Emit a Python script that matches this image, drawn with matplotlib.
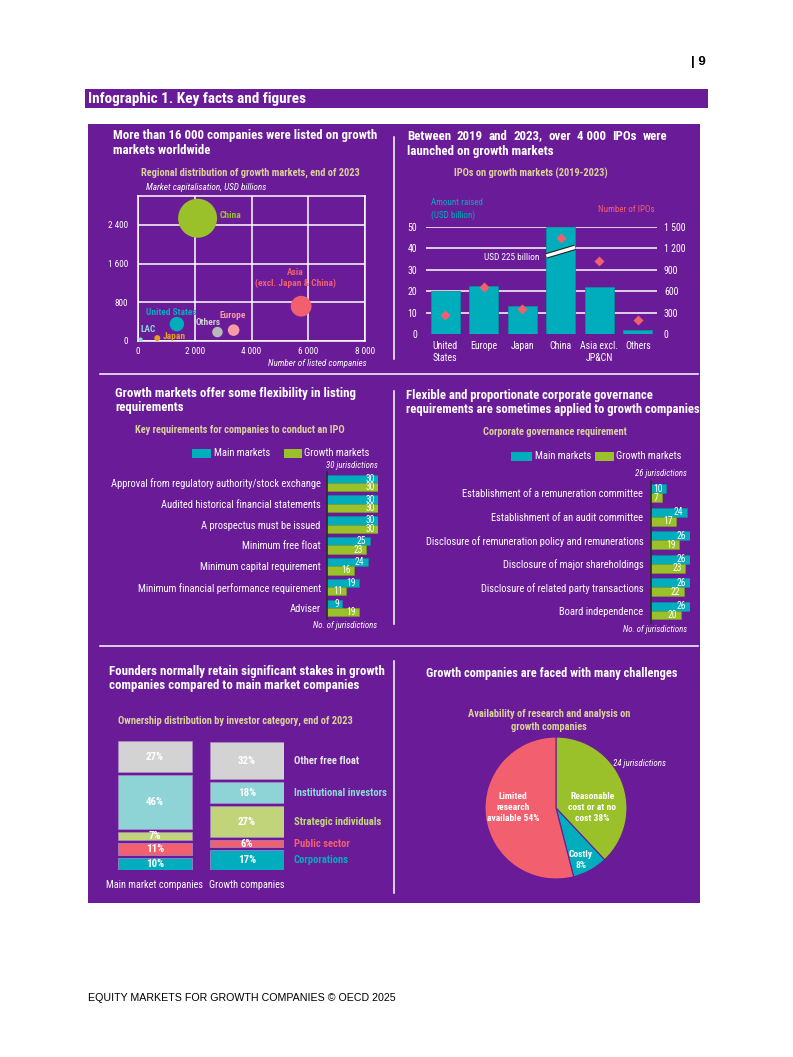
import matplotlib
matplotlib.use('Agg')
import matplotlib.pyplot as plt
import matplotlib.patheffects as pe
import matplotlib.font_manager as fm
from matplotlib.patches import Rectangle
import numpy as np

# ---------------- data ----------------
# Panel 1: bubble chart
bubble_regions = ['China', 'Asia\n(excl. Japan & China)', 'United States', 'Europe', 'Others', 'Japan', 'LAC']
bubble_listed = [2100, 5750, 1370, 3370, 2800, 680, 90]
bubble_mcap = [2540, 720, 350, 225, 185, 60, 30]
bubble_xticks = [0, 2000, 4000, 6000, 8000]
bubble_xlabels = ['0', '2 000', '4 000', '6 000', '8 000']
bubble_yticks = [0, 800, 1600, 2400]
bubble_ylabels = ['0', '800', '1 600', '2 400']

# Panel 2: IPOs
ipo_regions = ['United\nStates', 'Europe', 'Japan', 'China', 'Asia excl.\nJP&CN', 'Others']
ipo_amount = [20, 22.5, 13, 225, 22, 2]
ipo_count = [270, 660, 350, 1345, 1025, 200]
ipo_left_ticks = [0, 10, 20, 30, 40, 50]
ipo_right_ticks = [0, 300, 600, 900, 1200, 1500]
ipo_right_labels = ['0', '300', '600', '900', '1 200', '1 500']

# Panel 3: listing requirements
req_items = ['Approval from regulatory authority/stock exchange',
             'Audited historical financial statements',
             'A prospectus must be issued',
             'Minimum free float',
             'Minimum capital requirement',
             'Minimum financial performance requirement',
             'Adviser']
req_main = [30, 30, 30, 25, 24, 19, 9]
req_growth = [30, 30, 30, 23, 16, 11, 19]

# Panel 4: corporate governance
cg_items = ['Establishment of a remuneration committee',
            'Establishment of an audit committee',
            'Disclosure of remuneration policy and remunerations',
            'Disclosure of major shareholdings',
            'Disclosure of related party transactions',
            'Board independence']
cg_main = [10, 24, 26, 26, 26, 26]
cg_growth = [7, 17, 19, 23, 22, 20]

# Panel 5: ownership (bottom -> top)
own_categories = ['Corporations', 'Public sector', 'Strategic individuals',
                  'Institutional investors', 'Other free float']
own_main = [10, 11, 7, 46, 27]
own_growth = [17, 6, 27, 18, 32]
own_groups = ['Main market companies', 'Growth companies']

# Panel 6: pie
pie_labels = ['Reasonable\ncost or at no\ncost 38%', 'Costly\n8%', 'Limited\nresearch\navailable 54%']
pie_values = [38, 8, 54]

# ---------------- fonts ----------------
entries = fm.fontManager.ttflist
names = {f.name for f in entries}


def pick_font():
    for nm in ['Roboto Condensed', 'Liberation Sans Narrow', 'Arial Narrow',
               'Open Sans Condensed', 'Noto Sans Condensed', 'Archivo Narrow']:
        if nm in names:
            return nm, 'normal'
    for nm in ['Roboto', 'Open Sans', 'Noto Sans', 'Liberation Sans', 'DejaVu Sans']:
        if any(f.name == nm and f.stretch != 'normal' for f in entries):
            return nm, 'condensed'
    return 'Liberation Sans', 'normal'


MAIN_FONT, STRETCH = pick_font()
FONT = [MAIN_FONT, 'Liberation Sans', 'DejaVu Sans']
plt.rcParams['font.family'] = FONT
plt.rcParams['font.stretch'] = STRETCH

# ---------------- style ----------------
PURPLE = '#6a1b98'
WHITE = '#ffffff'
KHAKI = '#d9d19a'
TEAL = '#00adbd'
GREEN = '#9bc12a'
RED = '#f2606f'
PINK = '#f59aa6'
GRAY = '#b8b8b8'
GOLD = '#e2a11c'
LTEAL = '#8fd6d8'

W, H = 793, 1057
fig = plt.figure(figsize=(W / 100, H / 100), dpi=100)
fig.patch.set_facecolor('white')

bg = fig.add_axes([0, 0, 1, 1], zorder=-5)
bg.set_xlim(0, W)
bg.set_ylim(H, 0)
bg.axis('off')

# width-fitting factor (sizes below are tuned for a ~264 px wide title line)
_probe = bg.text(0, 0, 'More than 16 000 companies were listed on growth', fontsize=9.35,
                 fontweight='bold')
_w = _probe.get_window_extent(fig.canvas.get_renderer()).width
_probe.remove()
F = float(np.clip(264.0 / _w, 0.72, 1.15))


def fs(v):
    return v * F


def pax(x0, y0, x1, y1):
    ax = fig.add_axes([x0 / W, 1 - y1 / H, (x1 - x0) / W, (y1 - y0) / H])
    ax.patch.set_alpha(0)
    return ax


def txt(x, y, s, **kw):
    kw.setdefault('va', 'center')
    kw.setdefault('color', WHITE)
    return bg.text(x, y, s, **kw)


# page decorations
txt(706, 62, '| 9', ha='right', fontsize=9.5, fontweight='bold', color='black',
    family=['Liberation Sans', 'DejaVu Sans'], fontstretch='normal')
bg.add_patch(Rectangle((85, 89), 623, 19, color=PURPLE, lw=0))
txt(88, 98.5, 'Infographic 1. Key facts and figures', fontsize=fs(11.1), fontweight='bold')
bg.add_patch(Rectangle((88, 124), 612, 779, color=PURPLE, lw=0))
txt(88, 998, 'EQUITY MARKETS FOR GROWTH COMPANIES \u00a9 OECD 2025', fontsize=7.7,
    color='black', family=['Liberation Sans', 'DejaVu Sans'], fontstretch='normal')

# dividers
for (xa, ya, xb, yb) in [(394, 137, 394, 359), (100, 374, 698, 374), (394, 391, 394, 624),
                         (100, 646, 698, 646), (394, 661, 394, 893)]:
    bg.plot([xa, xb], [ya, yb], color=WHITE, lw=1.1)

TS = fs(9.35)   # title size
SS = fs(7.55)   # subtitle size
CAT = fs(7.6)   # category / legend labels
JUR = fs(6.4)   # italic notes


def title(x, ys, lines, ha='left', size=None):
    for y, s in zip(ys, lines):
        txt(x, y, s, fontsize=size or TS, fontweight='bold', ha=ha)


def justified(x0, x1, y, words, **kw):
    ts = [txt(0, y, w, **kw) for w in words]
    r = fig.canvas.get_renderer()
    ws = [t.get_window_extent(r).width for t in ts]
    gap = (x1 - x0 - sum(ws)) / (len(ws) - 1)
    xx = x0
    for t, w in zip(ts, ws):
        t.set_x(xx)
        xx += w + gap


# ---------------- Panel 1 ----------------
title(113, [136, 150], ['More than 16 000 companies were listed on growth', 'markets worldwide'])
txt(250, 173, 'Regional distribution of growth markets, end of 2023', fontsize=SS,
    fontweight='bold', color=KHAKI, ha='center')
txt(146, 188, 'Market capitalisation, USD billions', fontsize=fs(6.7), style='italic')
txt(367, 364, 'Number of listed companies', fontsize=fs(6.6), style='italic', ha='right')

ax1 = pax(138, 196, 365, 341)
ax1.set_xlim(0, 8000)
ax1.set_ylim(0, 3000)
ax1.set_xticks(bubble_xticks, bubble_xlabels)
ax1.set_yticks(bubble_yticks, bubble_ylabels)
ax1.grid(True, color=WHITE, lw=1.1)
ax1.set_axisbelow(True)
for s in ax1.spines.values():
    s.set_color(WHITE)
    s.set_linewidth(1.1)
ax1.tick_params(length=0, labelcolor=WHITE, labelsize=fs(6.6))
ax1.tick_params(axis='y', pad=7)
ax1.tick_params(axis='x', pad=4.5)
b_colors = [GREEN, RED, TEAL, PINK, GRAY, GOLD, LTEAL]
lab_colors = [GREEN, RED, TEAL, PINK, '#cfcfcf', GOLD, LTEAL]
lab_off = [(22, 3), (-6, 28), (-6, 12), (-1, 15), (-9, 10), (5, 2), (8, 10)]
lab_ha = ['left', 'center', 'center', 'center', 'center', 'left', 'center']
ax1.scatter(bubble_listed, bubble_mcap, s=np.array(bubble_mcap) * 0.31, c=b_colors,
            linewidths=0, zorder=3, clip_on=False)
for xv, yv, name, col, off, ha in zip(bubble_listed, bubble_mcap, bubble_regions,
                                      lab_colors, lab_off, lab_ha):
    ax1.annotate(name, (xv, yv), xytext=(off[0] * 0.72, off[1] * 0.72),
                 textcoords='offset points', ha=ha, va='center', fontsize=fs(6.8),
                 fontweight='bold', color=col, linespacing=1.3, zorder=4)

# ---------------- Panel 2 ----------------
justified(407, 667, 136, ['Between', '2019', 'and', '2023,', 'over', '4 000', 'IPOs', 'were'],
          fontsize=TS, fontweight='bold')
txt(407, 152, 'launched on growth markets', fontsize=TS, fontweight='bold')
txt(531, 173, 'IPOs on growth markets (2019-2023)', fontsize=SS, fontweight='bold',
    color=KHAKI, ha='center')
txt(431, 209, 'Amount raised\n(USD billion)', fontsize=fs(6.5), color=TEAL, linespacing=1.35)
txt(655, 209, 'Number of IPOs', fontsize=fs(6.5), color=RED, ha='right')

ax2 = pax(426, 227, 657, 334)
ax2.set_xlim(-0.5, 5.5)
ax2.set_ylim(0, 50)
xi = np.arange(len(ipo_regions))
for t in ipo_left_ticks[1:]:
    ax2.axhline(t, color=WHITE, lw=1.1, zorder=1)
ax2.bar(xi, np.minimum(ipo_amount, 50), width=0.75, color=TEAL, edgecolor='#0a8f9c',
        lw=0.6, zorder=2)
ax2.set_yticks(ipo_left_ticks)
ax2.set_xticks(xi, ipo_regions)
for s in ax2.spines.values():
    s.set_visible(False)
ax2.tick_params(length=0, labelcolor=WHITE, labelsize=fs(7.2))
ax2.tick_params(axis='y', pad=6.5)
ax2.tick_params(axis='x', pad=5)
for lbl in ax2.get_xticklabels():
    lbl.set_linespacing(1.3)
ci = ipo_regions.index('China')
ax2.plot([ci - 0.375, ci + 0.375], [36.5, 40.5], color=WHITE, lw=2.4, solid_capstyle='butt',
         zorder=4, path_effects=[pe.Stroke(linewidth=4, foreground='#222222'), pe.Normal()])
txt(539, 258, 'USD 225 billion', fontsize=fs(6.7), ha='right')

tw = ax2.twinx()
tw.patch.set_alpha(0)
tw.set_ylim(0, 1500)
tw.set_yticks(ipo_right_ticks, ipo_right_labels)
for s in tw.spines.values():
    s.set_visible(False)
tw.tick_params(length=0, labelcolor=WHITE, labelsize=fs(7.2), pad=5)
tw.plot(xi, ipo_count, 'D', color=RED, ms=5.5, mec='none', zorder=5)


# ---------------- Panels 3 & 4 (paired bars) ----------------
def paired(ax, items, main, growth, xmax, ymax, h, pad):
    y = np.arange(len(items))
    ax.set_xlim(0, xmax)
    ax.set_ylim(ymax, -0.52)
    ax.barh(y - h / 2, main, height=h, color=TEAL, edgecolor='#0a8f9c', lw=0.4)
    ax.barh(y + h / 2, growth, height=h, color=GREEN, edgecolor='#7f9f1f', lw=0.4)
    for yy, vals in [(y - h / 2, main), (y + h / 2, growth)]:
        for v, p in zip(vals, yy):
            ax.annotate(str(v), (v, p), xytext=(-2.5, 0), textcoords='offset points',
                        ha='right', va='center', fontsize=fs(7.0), color=WHITE)
    ax.set_yticks(y, items)
    ax.set_xticks([])
    for k in ['top', 'right', 'bottom']:
        ax.spines[k].set_visible(False)
    ax.spines['left'].set_color('#2a2a2a')
    ax.spines['left'].set_linewidth(1.1)
    ax.tick_params(axis='y', length=0, labelsize=CAT, labelcolor=WHITE, pad=pad)


def legend(x1, x2, y, w1, w2):
    bg.add_patch(Rectangle((x1, y - 4.5), w1, 9, color=TEAL, lw=0))
    txt(x1 + w1 + 3, y, 'Main markets', fontsize=CAT)
    bg.add_patch(Rectangle((x2, y - 4.5), w2, 9, color=GREEN, lw=0))
    txt(x2 + w2 + 2, y, 'Growth markets', fontsize=CAT)


title(115, [393, 408], ['Growth markets offer some flexibility in listing', 'requirements'])
txt(240, 430, 'Key requirements for companies to conduct an IPO', fontsize=SS,
    fontweight='bold', color=KHAKI, ha='center')
legend(192, 284, 453, 19, 18)
txt(378, 466, '30 jurisdictions', fontsize=JUR, style='italic', ha='right')
txt(377, 625, 'No. of jurisdictions', fontsize=JUR, style='italic', ha='right')
ax3 = pax(327, 472, 378, 619)
paired(ax3, req_items, req_main, req_growth, 30, 6.53, 0.4, 4.5)

title(406, [395, 409], ['Flexible and proportionate corporate governance',
                        'requirements are sometimes applied to growth companies'],
      size=fs(9.15))
txt(555, 432, 'Corporate governance requirement', fontsize=SS, fontweight='bold',
    color=KHAKI, ha='center')
legend(511, 595, 456, 21, 19)
txt(687, 474, '26 jurisdictions', fontsize=JUR, style='italic', ha='right')
txt(687, 630, 'No. of jurisdictions', fontsize=JUR, style='italic', ha='right')
ax4 = pax(651, 481, 690, 623)
paired(ax4, cg_items, cg_main, cg_growth, 26, 5.53, 0.38, 5.5)

# ---------------- Panel 5 ----------------
title(109, [671, 685], ['Founders normally retain significant stakes in growth',
                        'companies compared to main market companies'])
txt(118, 721, 'Ownership distribution by investor category, end of 2023', fontsize=SS,
    fontweight='bold', color=KHAKI)
ax5 = pax(118, 741, 284, 870)
gap = 2.6
seg_colors = [TEAL, RED, '#c2d47a', '#8ed4d6', '#d3d3d3']
leg_colors = [TEAL, RED, '#c4d67c', '#8fd6d8', '#e4e4e4']
ax5.set_xlim(-0.4, 1.4)
ax5.set_ylim(0, sum(own_main) + gap * (len(own_main) - 1))
for gi, vals in enumerate([own_main, own_growth]):
    bottom = 0
    for ci_, v in enumerate(vals):
        ax5.bar(gi, v, bottom=bottom, width=0.8, color=seg_colors[ci_],
                edgecolor='#a98cc8', lw=0.5)
        ax5.text(gi, bottom + v / 2, f'{v}%', ha='center', va='center', fontsize=fs(7.9),
                 fontweight='bold', color=WHITE, zorder=5)
        if gi == 1:
            ax5.annotate(own_categories[ci_], (1.4, bottom + v / 2), xytext=(7.2, 0),
                         textcoords='offset points', ha='left', va='center', fontsize=fs(7.7),
                         fontweight='bold', color=leg_colors[ci_], annotation_clip=False)
        bottom += v + gap
ax5.set_xticks([0, 1], own_groups)
ax5.set_yticks([])
for s in ax5.spines.values():
    s.set_visible(False)
ax5.tick_params(axis='x', length=0, labelsize=fs(7.5), labelcolor=WHITE, pad=7)

# ---------------- Panel 6 ----------------
txt(552, 673, 'Growth companies are faced with many challenges', fontsize=fs(9.0),
    fontweight='bold', ha='center')
txt(549, 720.5, 'Availability of research and analysis on\ngrowth companies', fontsize=SS,
    fontweight='bold', color=KHAKI, ha='center', linespacing=1.35)
txt(613, 763, '24 jurisdictions', fontsize=fs(6.5), style='italic')
ax6 = pax(485, 737, 627, 879)
ax6.pie(pie_values, colors=[GREEN, TEAL, RED], startangle=90, counterclock=False,
        wedgeprops=dict(edgecolor=PURPLE, linewidth=0.8))
ax6.set_xlim(-1, 1)
ax6.set_ylim(-1, 1)
ax6.set_aspect('equal')
for lbl, pos in zip(pie_labels, [(0.51, 0.01), (0.35, -0.73), (-0.61, 0.01)]):
    ax6.text(pos[0], pos[1], lbl, ha='center', va='center', fontsize=fs(6.9),
             fontweight='bold', color=WHITE, linespacing=1.3)

fig.savefig('out.png', dpi=100, facecolor='white')
